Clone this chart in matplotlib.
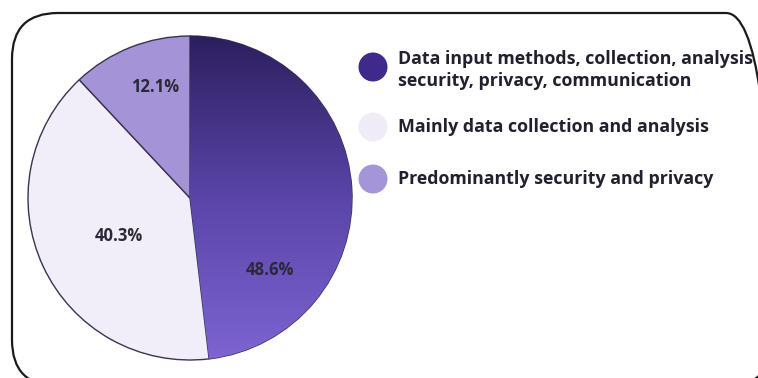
import numpy as np
import matplotlib
matplotlib.use("Agg")
import matplotlib.pyplot as plt
from matplotlib.patches import FancyBboxPatch, Circle
from matplotlib.colors import LinearSegmentedColormap

categories = ["Data input methods, collection, analysis\nsecurity, privacy, communication",
              "Mainly data collection and analysis",
              "Predominantly security and privacy"]
values = [48.6, 40.3, 12.1]
pct_labels = ["48.6%", "40.3%", "12.1%"]
colors = ["#4a3596", "#f1eefa", "#a593d8"]
legend_colors = ["#3f2a8c", "#efecf8", "#a494d8"]

W, H = 758, 378
fig = plt.figure(figsize=(W / 100, H / 100), dpi=100)
ax = fig.add_axes([0, 0, 1, 1])

# rounded border
box = FancyBboxPatch((12, -8), 760, 373, boxstyle="round,pad=0,rounding_size=46",
                     fill=False, edgecolor="#1a1a1a", linewidth=1.6, clip_on=False)
ax.add_patch(box)

cx, cy, r = 190, 180, 162
wedges, _ = ax.pie(values, colors=colors, startangle=90, counterclock=False,
                   center=(cx, cy), radius=r, frame=True,
                   wedgeprops=dict(edgecolor="#3b3350", linewidth=1.0))

# gradient on first wedge (dark at top, lighter at bottom)
cmap = LinearSegmentedColormap.from_list("g", ["#2c1f5e", "#5a45a8", "#7d64d2"])
grad = np.linspace(0, 1, 256).reshape(-1, 1)
im = ax.imshow(grad, cmap=cmap, extent=(cx - r, cx + r, cy - r, cy + r),
               origin="upper", aspect="auto", zorder=wedges[0].get_zorder() + 0.1)
im.set_clip_path(wedges[0])

ax.set_xlim(0, W)
ax.set_ylim(0, H)
ax.set_aspect("equal")
ax.axis("off")

# percentage labels: (radius fraction, angle deg)
label_pos = [(0.66, -42), (0.50, 208), (0.72, 107.5)]
for (f, a), t in zip(label_pos, pct_labels):
    x = cx + f * r * np.cos(np.radians(a))
    y = cy + f * r * np.sin(np.radians(a))
    ax.text(x, y, t, ha="center", va="center", fontsize=12, color="#2b2838",
            family="Open Sans", fontweight="bold", zorder=10)

# legend
leg_y = [H - 67, H - 127, H - 179]
for yy, c, lab in zip(leg_y, legend_colors, categories):
    ax.add_patch(Circle((373, yy), 14.5, facecolor=c, edgecolor="none", zorder=5))
    ax.text(398, yy + (-3 if "\n" in lab else 0), lab, ha="left", va="center",
            fontsize=12.8, color="#22202e", family="Open Sans", fontweight="bold",
            linespacing=1.25, zorder=5)

fig.savefig("out.png", dpi=100, facecolor="white")
